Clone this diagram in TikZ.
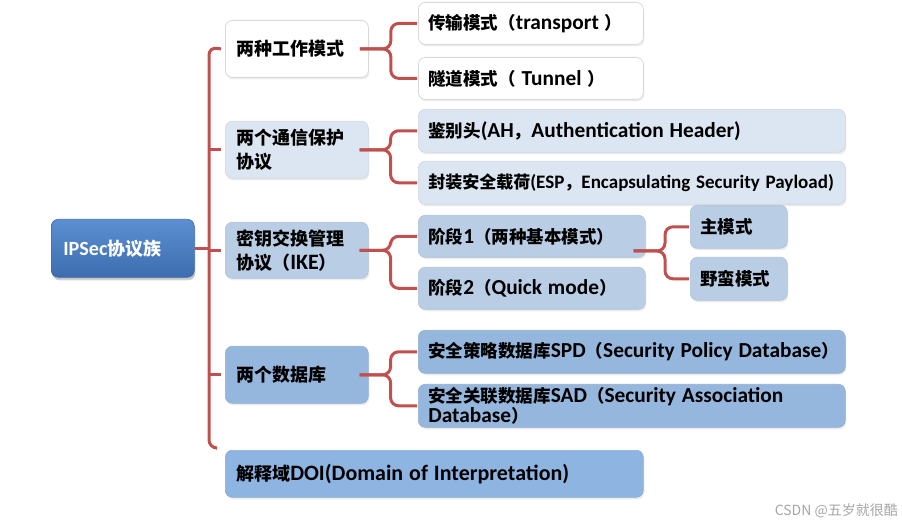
\documentclass[tikz,border=0pt]{standalone}
\usepackage{fontspec}
\setmainfont{Noto Sans CJK SC}
\newfontfamily\latf{Carlito}[Scale=1.22, BoldFont={Carlito Bold}]
\newfontfamily\latfs{Carlito}[Scale=1.12, BoldFont={Carlito Bold}]
\newcommand{\latx}[1]{{\latf #1}}
\newcommand{\latxs}[1]{{\latfs #1}}
\hyphenpenalty=10000
\exhyphenpenalty=10000
\hbadness=10000
\hfuzz=100pt
\usetikzlibrary{shadows,calc}
\definecolor{linkred}{HTML}{C0504D}
\definecolor{rootA}{HTML}{5B8FD2}
\definecolor{rootB}{HTML}{3D6DAE}
\definecolor{fillW}{HTML}{FFFFFF}
\definecolor{fillB}{HTML}{DCE6F2}
\definecolor{fillC}{HTML}{B9CDE5}
\definecolor{fillD}{HTML}{95B6DD}
\definecolor{fillE}{HTML}{8EB4E2}
\definecolor{edgeW}{HTML}{D9D9D9}
\definecolor{wmgray}{HTML}{A6A6A6}
\tikzset{
  box/.style={anchor=north west, rounded corners=7pt, inner xsep=10pt, inner ysep=0pt,
    align=left, font=\fontsize{17.5}{22}\selectfont\bfseries, text=black,
    drop shadow={opacity=0.15, shadow xshift=1pt, shadow yshift=-2pt}},
  lone/.style={inner xsep=11pt, font=\fontsize{18}{24}\selectfont\bfseries},
  wbox/.style={box, fill=fillW, draw=edgeW, line width=0.8pt},
  bbox/.style={box, fill=fillB, draw=fillB!85!gray, line width=0.6pt},
  cbox/.style={box, fill=fillC, draw=fillC!85!gray, line width=0.6pt},
  dbox/.style={box, fill=fillD, draw=fillD!85!gray, line width=0.6pt},
  ebox/.style={box, fill=fillE, draw=fillE!85!gray, line width=0.6pt},
  link/.style={draw=linkred, line width=3pt, rounded corners=8pt},
}
\begin{document}
\begin{tikzpicture}[x=1pt,y=-1pt]
\useasboundingbox (0,0) rectangle (902,526);
% root
\node[box, text=white, top color=rootA, bottom color=rootB, draw=rootB, line width=0.6pt,
  minimum width=143pt, minimum height=58pt, text width=119pt, inner xsep=12pt,
  font=\fontsize{18}{24}\selectfont\bfseries,
  drop shadow={opacity=0.35, shadow xshift=1pt, shadow yshift=-3pt}] (root) at (51,219) {\latxs{IPSec}协议族};
% level 1
\node[wbox, lone, minimum width=143pt, minimum height=57pt, text width=121pt] (la) at (225,20) {两种工作模式};
\node[bbox, lone, minimum width=143pt, minimum height=57pt, text width=121pt] (lb) at (225,121) {两个通信保护\\协议};
\node[cbox, lone, minimum width=143pt, minimum height=56pt, text width=121pt] (lc) at (225,222) {密钥交换管理\\协议（\latx{IKE}）};
\node[dbox, lone, minimum width=143pt, minimum height=57pt, text width=121pt] (ld) at (225,346) {两个数据库};
\node[ebox, lone, minimum width=418pt, minimum height=47pt, text width=396pt] (doi) at (225,450) {\mbox{解释域\latx{DOI(Domain of Interpretation)}}};
% level 2
\node[wbox, minimum width=225pt, minimum height=42pt, text width=205pt] (a1) at (418,2) {\mbox{传输模式（\latx{transport }）}};
\node[wbox, minimum width=225pt, minimum height=42pt, text width=205pt] (a2) at (418,57) {\mbox{隧道模式（ \latx{Tunnel} ）}};
\node[bbox, minimum width=427pt, minimum height=43pt, text width=407pt] (b1) at (418,109) {\mbox{鉴别头\latx{(AH}，\latx{Authentication Header)}}};
\node[bbox, minimum width=427pt, minimum height=43pt, text width=407pt, font=\fontsize{17}{22}\selectfont\bfseries] (b2) at (418,161) {\mbox{封装安全载荷\latxs{(ESP}，\latxs{Encapsulating Security Payload)}}};
\node[cbox, minimum width=227pt, minimum height=42pt, text width=207pt] (c1) at (418,215) {\mbox{阶段\latx{1}（两种基本模式）}};
\node[cbox, minimum width=227pt, minimum height=42pt, text width=207pt] (c2) at (418,267) {\mbox{阶段\latx{2}（\latx{Quick mode}）}};
\node[cbox, minimum width=97pt, minimum height=43pt, text width=77pt] (d1) at (690,205) {主模式};
\node[cbox, minimum width=97pt, minimum height=43pt, text width=77pt] (d2) at (690,257) {\mbox{野蛮模式}};
\node[dbox, minimum width=427pt, minimum height=43pt, text width=407pt] (e1) at (418,330) {\mbox{安全策略数据库\latx{SPD}（\latx{Security Policy Database}）}};
\node[dbox, minimum width=427pt, minimum height=43pt, text width=407pt, font=\fontsize{17.5}{20}\selectfont\bfseries] (e2) at (418,384) {\mbox{安全关联数据库\latx{SAD}（\latx{Security Association}}\\\latx{Database}）};
% watermark
\node[anchor=east, inner sep=0pt, text=wmgray, font=\fontsize{14}{16}\selectfont] (wm) at (898,511) {CSDN @五岁就很酷};
% trunk
\coordinate (tt) at (209,47);
\coordinate (tb) at (209,448);
\draw[link] ([xshift=-4pt]la.west) -- (tt) -- (tb) -- (216,448);
\draw[link] (root.east) -- (root.east -| tt);
\draw[link] (tt |- lb.west) -- ([xshift=-4pt]lb.west);
\draw[link] (tt |- lc.west) -- ([xshift=-4pt]lc.west);
\draw[link] (tt |- ld.west) -- ([xshift=-4pt]ld.west);
% braces
\foreach \p/\u/\l in {la/a1/a2, lb/b1/b2, lc/c1/c2, ld/e1/e2}{
  \draw[link] ([xshift=-9pt]\p.east) -- ($(\p.east)+(22,0)$) |- ([xshift=-1pt]\u.west);
  \draw[link] ([xshift=-9pt]\p.east) -- ($(\p.east)+(22,0)$) |- ([xshift=-1pt]\l.west);
}
\coordinate (jd) at (665,251);
\draw[link] ([xshift=-12pt]c1.east |- jd) -- (jd) |- ([xshift=-1pt]d1.west);
\draw[link] ([xshift=-12pt]c1.east |- jd) -- (jd) |- ([xshift=-1pt]d2.west);
\end{tikzpicture}
\end{document}
